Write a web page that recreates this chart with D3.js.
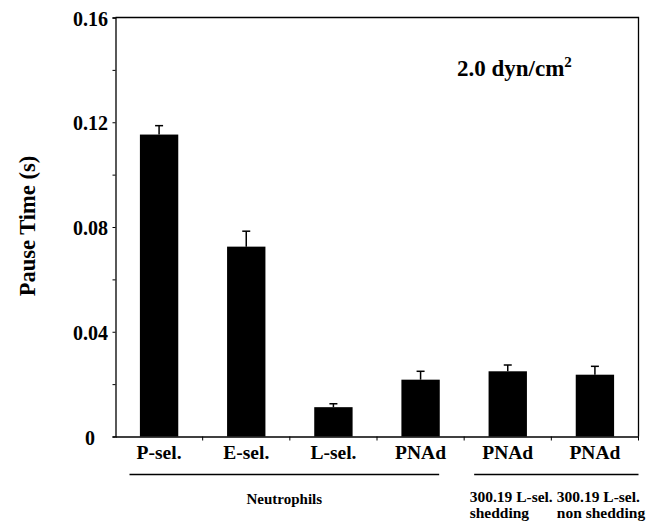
<!DOCTYPE html>
<html><head><meta charset="utf-8">
<script src="https://cdn.jsdelivr.net/npm/d3@7"></script>
<style>body{margin:0;background:#fff}svg{display:block}</style>
</head><body><div id="chart"></div>
<script>
const categories = ["P-sel.", "E-sel.", "L-sel.", "PNAd", "PNAd", "PNAd"];
const values = [0.1153, 0.0725, 0.0112, 0.0217, 0.0249, 0.0236];
const errors = [0.0034, 0.0059, 0.0013, 0.0032, 0.0024, 0.0032];
const yTicks = [0, 0.04, 0.08, 0.12, 0.16];
const yTickLabels = ["0", "0.04", "0.08", "0.12", "0.16"];
const groupLabels = [["Neutrophils"], ["300.19 L-sel.", "shedding"], ["300.19 L-sel.", "non shedding"]];
const groupSpans = [[0, 3], [4, 4], [5, 5]];
const annotation = "2.0 dyn/cm";

const FONT = '"Liberation Serif", "Times New Roman", serif';
const W = 664, H = 521;
const m = {left: 115.5, right: 638.5, top: 17.5, bottom: 436.5};
const svg = d3.select("#chart").append("svg").attr("width", W).attr("height", H);

const x = d3.scaleBand().domain(d3.range(categories.length)).range([m.left, m.right]).padding(0);
const y = d3.scaleLinear().domain([0, 0.16]).range([m.bottom, m.top]);
const bw = x.bandwidth() * 0.44;

function txt(sel) {
  return sel.style("font-family", FONT).style("font-weight", "bold").style("fill", "#000");
}

// frame top & right
svg.append("path").attr("d", `M${m.left},${m.top}H${m.right}V${m.bottom}`)
  .attr("fill", "none").attr("stroke", "#000").attr("stroke-width", 1.3);

// y axis
const yAxis = svg.append("g").attr("transform", `translate(${m.left},0)`)
  .call(d3.axisLeft(y).tickValues(d3.range(0, 0.161, 0.02)).tickSize(3).tickFormat(""));
yAxis.select(".domain").attr("stroke-width", 1.3);
yAxis.selectAll(".tick line").attr("stroke-width", 1);
txt(svg.append("g").selectAll("text").data(yTicks).join("text")
  .attr("x", (d, i) => i === 0 ? 95 : 108)
  .attr("y", d => y(d) + 8)
  .attr("text-anchor", "end"))
  .style("font-size", "20px")
  .text((d, i) => yTickLabels[i]);

// x axis
const xAxis = svg.append("g").attr("transform", `translate(0,${m.bottom})`)
  .call(d3.axisBottom(x).tickSize(0).tickFormat(""));
xAxis.select(".domain").attr("stroke-width", 1.3);
svg.append("g").selectAll("line").data(d3.range(1, categories.length + 1)).join("line")
  .attr("x1", i => i < categories.length ? x(i) : m.right)
  .attr("x2", i => i < categories.length ? x(i) : m.right)
  .attr("y1", m.bottom).attr("y2", m.bottom + 4).attr("stroke", "#000").attr("stroke-width", 1);

// bars
svg.append("g").selectAll("rect").data(values).join("rect")
  .attr("x", (d, i) => x(i) + x.bandwidth() / 2 - bw / 2)
  .attr("width", bw)
  .attr("y", d => y(d))
  .attr("height", d => y(0) - y(d))
  .attr("fill", "#000");

// error bars
const eb = svg.append("g").attr("stroke", "#000").attr("stroke-width", 1.5);
values.forEach((v, i) => {
  const cx = x(i) + x.bandwidth() / 2;
  eb.append("line").attr("x1", cx).attr("x2", cx).attr("y1", y(v)).attr("y2", y(v + errors[i]));
  eb.append("line").attr("x1", cx - 4).attr("x2", cx + 4).attr("y1", y(v + errors[i])).attr("y2", y(v + errors[i]));
});

// category labels
txt(svg.append("g").selectAll("text").data(categories).join("text")
  .attr("x", (d, i) => x(i) + x.bandwidth() / 2)
  .attr("y", 459).attr("text-anchor", "middle"))
  .style("font-size", "19.5px")
  .text(d => d);

// group lines & labels
groupSpans.forEach((s, gi) => {
  if (gi === 2) return;
  const x1 = gi === 0 ? x(s[0]) + 14 : x(s[0]) + 10;
  const x2 = gi === 0 ? x(s[1]) + x.bandwidth() - 25 : m.right;
  svg.append("line").attr("x1", x1).attr("x2", x2).attr("y1", 474.5).attr("y2", 474.5)
    .attr("stroke", "#000").attr("stroke-width", 1.5);
});
txt(svg.append("text").attr("x", (x(0) + 14 + x(3) + x.bandwidth() - 25) / 2).attr("y", 504)
  .attr("text-anchor", "middle")).style("font-size", "15px").text(groupLabels[0][0]);
[1, 2].forEach(gi => {
  const lx = x(groupSpans[gi][0]) + 5.5;
  groupLabels[gi].forEach((t, li) => {
    txt(svg.append("text").attr("x", lx).attr("y", 502 + li * 16))
      .style("font-size", "15.5px").text(t);
  });
});

// y title
txt(svg.append("text").attr("transform", "translate(35,226) rotate(-90)")
  .attr("text-anchor", "middle")).style("font-size", "22.5px").text("Pause Time (s)");

// annotation
const ann = txt(svg.append("text").attr("x", 457).attr("y", 76)).style("font-size", "23px").text(annotation);
ann.append("tspan").attr("dy", -9).style("font-size", "15px").text("2");
</script></body></html>
